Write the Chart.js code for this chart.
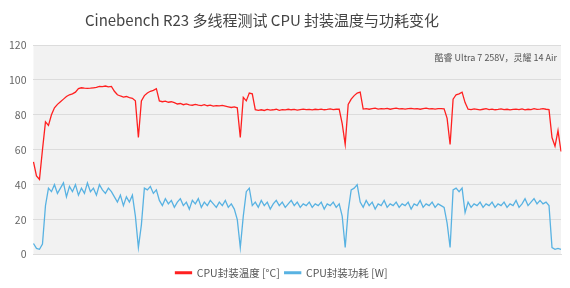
<!DOCTYPE html>
<html>
<head>
<meta charset="utf-8">
<script src="https://cdn.jsdelivr.net/npm/chart.js@4"></script>
<style>
  html, body { margin: 0; padding: 0; background: #fff; }
  #wrap { width: 570px; height: 288px; }
</style>
</head>
<body>
<div id="wrap"><canvas id="chart" width="570" height="288"></canvas></div>
<script>
// sample index along the run (no x labels shown)
const SAMPLES = 177;

// CPU package temperature, °C
const tempValues = [
  53, 45, 43, 60, 76, 74, 80, 84, 86, 87.5,
  89, 90.5, 91.5, 92, 93, 95, 95.5, 95.3, 95.2, 95.3,
  95.5, 95.7, 96.3, 96.2, 96.5, 96, 96.3, 93.5, 91.5, 90.8,
  90.2, 90.5, 89.8, 89.5, 88, 67, 88, 91, 92.5, 93.5,
  94, 95, 88, 87.5, 87.8, 87.2, 87.5, 87, 86.2, 86.5,
  85.8, 86.3, 85.7, 85.5, 86, 85.6, 85.3, 85.8, 85.2, 85.5,
  85, 85.3, 85.1, 85.4, 85, 84.6, 84.2, 84.6, 84, 67,
  90, 88, 92.5, 92, 83, 82.6, 82.9, 82.5, 83.1, 82.7,
  82.9, 83.2, 82.6, 83, 82.8, 83.2, 82.9, 83.1, 82.7, 83,
  83.3, 83, 83.1, 82.8, 83.2, 83, 83.3, 82.9, 83.1, 83.4,
  83, 83.2, 83.2, 75, 63, 86, 89, 91, 92.5, 93,
  83.3, 83.6, 83.2, 83.5, 83.8, 83.3, 83.6, 83.4, 83.7, 83.2,
  83.5, 83.8, 83.4, 83.6, 83.3, 83.5, 83.7, 83.4, 83.6, 83.2,
  83.5, 83.8, 83.4, 83.6, 83.3, 83.5, 83.6, 83.4, 78, 63,
  89, 91.5, 92, 93, 87, 83.2, 83, 83.4, 83.1, 82.8,
  83.2, 83.5, 83, 83.3, 82.9, 83.1, 83.4, 83, 83.2, 82.8,
  83.1, 83.3, 83, 83.4, 82.9, 83.2, 83, 83.5, 83.1, 83.3,
  83.6, 83.2, 83, 67, 62, 71, 59
];

// CPU package power, W
const powerValues = [
  6.3, 3.5, 3, 6, 28, 38, 36, 40, 35, 38,
  41, 33, 39, 36, 40, 34, 38, 35, 41, 36,
  38, 34, 40, 37, 35, 38, 36, 33, 30, 34,
  28, 33, 30, 34, 22, 4, 17, 38, 37, 39,
  35, 37, 31, 28, 32, 29, 31, 27, 30, 32,
  28, 30, 26, 31, 29, 32, 27, 30, 28, 31,
  29, 27, 30, 28, 31, 27, 29, 26, 20, 4,
  22, 36, 38, 28, 30, 27, 31, 28, 30, 26,
  29, 31, 28, 30, 27, 29, 31, 28, 30, 27,
  29, 28, 30, 27, 29, 28, 30, 26, 29, 28,
  30, 27, 29, 22, 4, 25, 37, 38, 40, 30,
  27, 31, 28, 30, 26, 29, 28, 31, 27, 29,
  28, 30, 27, 29, 28, 30, 26, 29, 28, 31,
  27, 29, 28, 30, 27, 29, 28, 27, 18, 4,
  37, 38, 36, 38, 24, 30, 27, 29, 28, 30,
  27, 29, 28, 30, 27, 29, 28, 30, 27, 29,
  28, 31, 27, 29, 32, 28, 30, 32, 29, 31,
  29, 30, 28, 4, 3, 3.5, 3
];

const yTicks = [0, 20, 40, 60, 80, 100, 120];

const titleText = 'Cinebench R23 多线程测试 CPU 封装温度与功耗变化';
const noteText = '酷睿 Ultra 7 258V，灵耀 14 Air';
const seriesNames = ['CPU封装温度 [°C]', 'CPU封装功耗 [W]'];
const seriesColors = ['rgb(255, 32, 32)', 'rgb(88, 178, 226)'];

const labels = Array.from({ length: SAMPLES }, (_, i) => String(i));

const FONT = '"Noto Sans CJK SC", "Noto Sans", sans-serif';

// grey plot area, title (sits a bit left of centre in the original) and device note
const decorations = {
  id: 'decorations',
  beforeDraw(chart) {
    const { ctx, chartArea: a } = chart;
    ctx.save();
    ctx.fillStyle = '#f2f2f2';
    ctx.fillRect(a.left, a.top, a.right - a.left, a.bottom - a.top);
    ctx.restore();
  },
  afterDraw(chart) {
    const { ctx, chartArea: a } = chart;
    ctx.save();
    ctx.font = '15px ' + FONT;
    ctx.fillStyle = '#444';
    ctx.textAlign = 'center';
    ctx.textBaseline = 'middle';
    ctx.fillText(titleText, 262, 20);

    ctx.font = '9px ' + FONT;
    ctx.fillStyle = '#555';
    ctx.textAlign = 'right';
    ctx.fillText(noteText, a.right - 4, a.top + 13);
    ctx.restore();
  },
};

new Chart(document.getElementById('chart').getContext('2d'), {
  type: 'line',
  data: {
    labels,
    datasets: [
      {
        label: seriesNames[0],
        data: tempValues,
        borderColor: seriesColors[0],
        backgroundColor: seriesColors[0],
        borderWidth: 1.3,
        pointRadius: 0,
        tension: 0,
      },
      {
        label: seriesNames[1],
        data: powerValues,
        borderColor: seriesColors[1],
        backgroundColor: seriesColors[1],
        borderWidth: 1.3,
        pointRadius: 0,
        tension: 0,
      },
    ],
  },
  options: {
    responsive: false,
    animation: false,
    layout: { padding: { left: 2, right: 9, top: 45, bottom: 0 } },
    plugins: {
      title: { display: false },
      legend: {
        position: 'bottom',
        labels: {
          boxWidth: 16,
          boxHeight: 1.5,
          padding: 5,
          color: '#555',
          font: { family: FONT, size: 10.5 },
        },
      },
      tooltip: { enabled: false },
    },
    scales: {
      x: {
        grid: { display: false },
        border: { display: true, color: '#ddd' },
        ticks: { display: false },
      },
      y: {
        min: 0,
        max: 120,
        afterBuildTicks(scale) {
          scale.ticks = yTicks.map((v) => ({ value: v }));
        },
        grid: { color: '#dcdcdc', drawTicks: false },
        border: { display: false },
        ticks: {
          color: '#666',
          padding: 7,
          font: { family: FONT, size: 10.5 },
        },
      },
    },
  },
  plugins: [decorations],
});
</script>
</body>
</html>
